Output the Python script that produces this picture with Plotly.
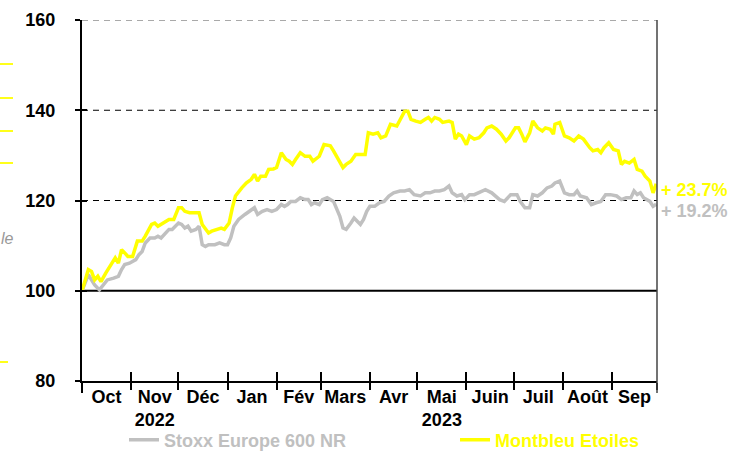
import plotly.graph_objects as go
import pandas as pd

# ---------------- data ----------------
stoxx_name = "Stoxx Europe 600 NR"
montbleu_name = "Montbleu Etoiles"

stoxx_dates = [
    "2022-10-01", "2022-10-05", "2022-10-07", "2022-10-09", "2022-10-12", "2022-10-14", "2022-10-17",
    "2022-10-21", "2022-10-24", "2022-10-26", "2022-10-28", "2022-10-31", "2022-11-02", "2022-11-04",
    "2022-11-06", "2022-11-08", "2022-11-10", "2022-11-13", "2022-11-16", "2022-11-18", "2022-11-20",
    "2022-11-22", "2022-11-25", "2022-11-27", "2022-12-01", "2022-12-03", "2022-12-05", "2022-12-07",
    "2022-12-09", "2022-12-12", "2022-12-14", "2022-12-16", "2022-12-18", "2022-12-20", "2022-12-24",
    "2022-12-27", "2022-12-30", "2023-01-01", "2023-01-03", "2023-01-05", "2023-01-08", "2023-01-12",
    "2023-01-15", "2023-01-18", "2023-01-20", "2023-01-23", "2023-01-26", "2023-01-29", "2023-02-01",
    "2023-02-04", "2023-02-06", "2023-02-08", "2023-02-10", "2023-02-13", "2023-02-16", "2023-02-19",
    "2023-02-21", "2023-02-23", "2023-02-25", "2023-02-28", "2023-03-02", "2023-03-05", "2023-03-09",
    "2023-03-11", "2023-03-13", "2023-03-15", "2023-03-17", "2023-03-20", "2023-03-22", "2023-03-24",
    "2023-03-26", "2023-03-28", "2023-03-30", "2023-04-01", "2023-04-04", "2023-04-07", "2023-04-10",
    "2023-04-13", "2023-04-16", "2023-04-20", "2023-04-23", "2023-04-26", "2023-04-29", "2023-05-03",
    "2023-05-06", "2023-05-09", "2023-05-12", "2023-05-15", "2023-05-18", "2023-05-21", "2023-05-23",
    "2023-05-26", "2023-05-29", "2023-05-31", "2023-06-03", "2023-06-06", "2023-06-09", "2023-06-13",
    "2023-06-17", "2023-06-19", "2023-06-22", "2023-06-25", "2023-06-29", "2023-07-03", "2023-07-05",
    "2023-07-08", "2023-07-11", "2023-07-13", "2023-07-16", "2023-07-19", "2023-07-22", "2023-07-25",
    "2023-07-27", "2023-07-30", "2023-08-02", "2023-08-05", "2023-08-08", "2023-08-10", "2023-08-12",
    "2023-08-16", "2023-08-19", "2023-08-22", "2023-08-25", "2023-08-28", "2023-08-31", "2023-09-04",
    "2023-09-07", "2023-09-10", "2023-09-13", "2023-09-15", "2023-09-17", "2023-09-19", "2023-09-21",
    "2023-09-25", "2023-09-27", "2023-09-29",
]
stoxx_values = [
    100.0, 103.6, 102.4, 101.3, 100.2, 101.0, 102.4,
    102.8, 103.2, 104.7, 105.8, 106.1, 106.5, 106.9,
    108.0, 108.7, 110.6, 111.7, 111.7, 112.1, 111.7,
    112.4, 113.6, 113.6, 115.0, 114.7, 113.9, 114.3,
    113.2, 113.6, 114.3, 110.2, 109.8, 110.2, 110.2,
    110.6, 110.2, 110.2, 111.7, 114.3, 115.8, 116.9,
    117.6, 118.4, 116.9, 117.6, 118.0, 117.6, 118.0,
    119.1, 118.7, 119.1, 119.8, 119.8, 120.6, 120.2,
    120.2, 119.1, 119.5, 119.1, 120.2, 120.6, 119.8,
    118.0, 116.5, 113.9, 113.6, 115.0, 116.1, 115.4,
    114.7, 115.8, 117.6, 118.7, 118.7, 119.5, 119.8,
    121.0, 121.7, 122.1, 122.1, 122.4, 121.3, 121.0,
    121.7, 121.7, 122.1, 122.1, 122.4, 123.2, 121.7,
    121.0, 121.3, 120.2, 121.3, 121.3, 121.7, 122.4,
    121.7, 121.0, 120.2, 119.8, 121.3, 121.3, 119.8,
    118.4, 118.4, 121.3, 121.0, 121.7, 122.8, 123.2,
    123.9, 124.3, 121.7, 121.3, 121.3, 122.1, 121.0,
    120.6, 119.1, 119.5, 119.8, 121.3, 121.3, 121.0,
    120.2, 120.6, 120.6, 122.1, 121.3, 121.7, 120.6,
    119.8, 118.7, 119.2,
]

montbleu_dates = [
    "2022-10-01", "2022-10-05", "2022-10-07", "2022-10-09", "2022-10-11", "2022-10-13", "2022-10-16",
    "2022-10-20", "2022-10-22", "2022-10-24", "2022-10-26", "2022-10-28", "2022-10-30", "2022-11-02",
    "2022-11-04", "2022-11-05", "2022-11-08", "2022-11-10", "2022-11-14", "2022-11-16", "2022-11-18",
    "2022-11-21", "2022-11-23", "2022-11-25", "2022-11-28", "2022-12-01", "2022-12-03", "2022-12-05",
    "2022-12-08", "2022-12-11", "2022-12-14", "2022-12-16", "2022-12-18", "2022-12-20", "2022-12-22",
    "2022-12-25", "2022-12-28", "2022-12-30", "2023-01-02", "2023-01-04", "2023-01-06", "2023-01-10",
    "2023-01-13", "2023-01-16", "2023-01-18", "2023-01-20", "2023-01-22", "2023-01-25", "2023-01-27",
    "2023-01-30", "2023-02-01", "2023-02-04", "2023-02-07", "2023-02-09", "2023-02-11", "2023-02-13",
    "2023-02-16", "2023-02-19", "2023-02-22", "2023-02-24", "2023-02-28", "2023-03-03", "2023-03-07",
    "2023-03-09", "2023-03-12", "2023-03-15", "2023-03-17", "2023-03-20", "2023-03-23", "2023-03-26",
    "2023-03-29", "2023-03-31", "2023-04-03", "2023-04-06", "2023-04-08", "2023-04-11", "2023-04-14",
    "2023-04-18", "2023-04-20", "2023-04-23", "2023-04-25", "2023-04-27", "2023-04-30", "2023-05-03",
    "2023-05-06", "2023-05-08", "2023-05-10", "2023-05-12", "2023-05-15", "2023-05-17", "2023-05-21",
    "2023-05-23", "2023-05-25", "2023-05-27", "2023-05-29", "2023-06-01", "2023-06-03", "2023-06-06",
    "2023-06-09", "2023-06-12", "2023-06-14", "2023-06-17", "2023-06-20", "2023-06-23", "2023-06-26",
    "2023-06-28", "2023-07-02", "2023-07-04", "2023-07-06", "2023-07-08", "2023-07-11", "2023-07-13",
    "2023-07-16", "2023-07-19", "2023-07-21", "2023-07-24", "2023-07-26", "2023-07-27", "2023-07-30",
    "2023-08-02", "2023-08-05", "2023-08-08", "2023-08-11", "2023-08-14", "2023-08-18", "2023-08-20",
    "2023-08-23", "2023-08-25", "2023-08-27", "2023-08-30", "2023-09-02", "2023-09-05", "2023-09-07",
    "2023-09-09", "2023-09-12", "2023-09-15", "2023-09-17", "2023-09-20", "2023-09-22", "2023-09-25",
    "2023-09-27", "2023-09-29",
]
montbleu_values = [
    100.0, 104.7, 104.3, 102.4, 103.2, 102.0, 103.9,
    106.1, 107.3, 106.1, 109.1, 108.4, 107.6, 107.6,
    109.8, 111.0, 111.0, 112.1, 114.7, 115.0, 114.3,
    115.0, 115.4, 115.8, 115.8, 118.4, 118.4, 117.6,
    117.3, 117.3, 117.3, 114.7, 113.6, 112.8, 113.2,
    113.6, 113.9, 113.6, 115.0, 118.3, 121.0, 122.8,
    123.9, 124.7, 125.8, 124.3, 125.4, 125.4, 126.9,
    127.0, 127.3, 130.6, 129.1, 128.7, 128.0, 129.1,
    130.6, 129.8, 129.8, 128.7, 129.8, 132.4, 132.1,
    131.0, 129.1, 127.3, 128.0, 128.7, 130.2, 130.2,
    130.2, 135.0, 134.7, 135.0, 133.9, 134.3, 136.9,
    136.5, 138.0, 139.8, 139.8, 138.0, 137.6, 137.3,
    138.0, 138.4, 137.6, 138.4, 138.0, 137.3, 137.6,
    137.3, 133.6, 134.7, 134.3, 132.4, 134.3, 133.6,
    133.9, 135.0, 136.1, 136.5, 135.8, 134.7, 133.2,
    133.9, 136.1, 136.1, 134.7, 133.0, 135.0, 137.6,
    136.1, 135.4, 136.1, 135.8, 134.7, 136.9, 137.3,
    134.3, 133.9, 133.2, 134.3, 133.6, 131.7, 131.0,
    131.3, 130.6, 131.7, 132.8, 131.3, 131.0, 128.0,
    128.7, 128.3, 129.1, 126.9, 126.5, 125.4, 124.3,
    121.7, 123.7,
]

month_starts = ["2022-10-01", "2022-11-01", "2022-12-01", "2023-01-01", "2023-02-01", "2023-03-01",
                "2023-04-01", "2023-05-01", "2023-06-01", "2023-07-01", "2023-08-01", "2023-09-01"]
month_labels = ["Oct", "Nov<br>2022", "Déc", "Jan", "Fév", "Mars",
                "Avr", "Mai<br>2023", "Juin", "Juil", "Août", "Sep"]
axis_start = "2022-10-01T00:00"
axis_end = "2023-09-29T12:00"
y_ticks = [80, 100, 120, 140, 160]
base_level = 100
dashed_levels = [120, 140]
top_level = 160

# ---------------- styling ----------------
GRAY = "#C0C0C0"
YELLOW = "#FFFF00"
FONT = "Arial, Liberation Sans, sans-serif"
FS = 18
W, H = 738, 451
ML, MR, MT, MB = 82, 81, 20, 70
PW, PH = W - ML - MR, H - MT - MB


def px_x(p):
    return (p - ML) / PW


def px_y(p):
    return (MT + PH - p) / PH


x_start = pd.Timestamp(axis_start)
x_end = pd.Timestamp(axis_end)
bounds = [pd.Timestamp(m) for m in month_starts] + [x_end]
mids = [bounds[i] + (bounds[i + 1] - bounds[i]) / 2 for i in range(len(month_starts))]
tick_positions = bounds

fig = go.Figure()
fig.add_trace(go.Scatter(
    x=pd.to_datetime(stoxx_dates), y=stoxx_values, mode="lines",
    name=f"<span style='color:{GRAY}'>{stoxx_name}</span>", legend="legend",
    line=dict(color=GRAY, width=3.5), hoverinfo="skip"))
fig.add_trace(go.Scatter(
    x=pd.to_datetime(montbleu_dates), y=montbleu_values, mode="lines",
    name=f"<span style='color:{YELLOW}'>{montbleu_name}</span>", legend="legend2",
    line=dict(color=YELLOW, width=3.5), hoverinfo="skip"))
# helper trace so the overlay axes (inner tick halves) are drawn
fig.add_trace(go.Scatter(x=[x_start], y=[base_level], xaxis="x2", yaxis="y2",
                         mode="markers", marker=dict(opacity=0), showlegend=False, hoverinfo="skip"))

legend_common = dict(orientation="h", xanchor="left", yanchor="middle", y=px_y(440),
                     font=dict(family=FONT, size=FS, weight="bold"),
                     bgcolor="rgba(0,0,0,0)", borderwidth=0)

fig.update_layout(
    width=W, height=H,
    margin=dict(l=ML, r=MR, t=MT, b=MB, pad=0, autoexpand=False),
    paper_bgcolor="white", plot_bgcolor="white",
    font=dict(family=FONT, size=FS, color="black"),
    showlegend=True,
    legend=dict(x=px_x(124), **legend_common),
    legend2=dict(x=px_x(455), **legend_common),
    xaxis=dict(type="date", range=[x_start, x_end], automargin=False,
               tickmode="array", tickvals=mids, ticktext=month_labels, ticks="",
               tickfont=dict(family=FONT, size=FS, weight="bold", color="black"),
               ticklabelstandoff=-2,
               showline=True, linecolor="black", linewidth=2, showgrid=False, zeroline=False,
               minor=dict(tickmode="array", tickvals=tick_positions, ticks="outside",
                          ticklen=7, tickwidth=2, tickcolor="black", showgrid=False)),
    xaxis2=dict(type="date", overlaying="x", anchor="y", side="bottom",
                range=[x_start, x_end], automargin=False,
                tickmode="array", tickvals=tick_positions, ticks="inside", ticklen=9,
                tickwidth=2, tickcolor="black", showticklabels=False, showline=False,
                showgrid=False, zeroline=False),
    yaxis=dict(range=[80, 160], tickmode="array", tickvals=y_ticks, ticks="outside",
               ticklen=5, tickwidth=2, tickcolor="black", automargin=False,
               tickfont=dict(family=FONT, size=FS, weight="bold", color="black"),
               ticklabelstandoff=16,
               showline=True, linecolor="black", linewidth=2, showgrid=False, zeroline=False),
    yaxis2=dict(range=[80, 160], overlaying="y", anchor="x", side="left", automargin=False,
                tickmode="array", tickvals=y_ticks, ticks="inside", ticklen=5, tickwidth=2,
                tickcolor="black", showticklabels=False, showline=False, showgrid=False,
                zeroline=False),
)

shapes = []
for lvl in dashed_levels:
    shapes.append(dict(type="line", xref="paper", x0=0, x1=1, yref="y", y0=lvl, y1=lvl,
                       line=dict(color="black", width=1, dash="6px,5px"), layer="below"))
shapes.append(dict(type="line", xref="paper", x0=0, x1=1, yref="y", y0=top_level, y1=top_level,
                   line=dict(color="#555555", width=1.2, dash="6px,5px"), layer="below"))
shapes.append(dict(type="line", xref="paper", x0=0, x1=1, yref="y", y0=base_level, y1=base_level,
                   line=dict(color="black", width=2), layer="below"))
# right frame line and downward extensions of the frame
shapes.append(dict(type="line", xref="paper", x0=1, x1=1, yref="paper", y0=-12 / PH, y1=1,
                   line=dict(color="#444444", width=1.5)))
shapes.append(dict(type="line", xref="paper", x0=0, x1=0, yref="paper", y0=-12 / PH, y1=0,
                   line=dict(color="black", width=2)))
# cut-off legend fragments at the far left of the picture
for py, right in [(64, 13), (98, 13), (131, 13), (163, 13), (362, 8)]:
    shapes.append(dict(type="line", xref="paper", x0=px_x(0), x1=px_x(right),
                       yref="paper", y0=px_y(py), y1=px_y(py),
                       line=dict(color=YELLOW, width=1.8)))
fig.update_layout(shapes=shapes)

annotations = [
    dict(xref="paper", yref="paper", x=px_x(16), y=px_y(238),
         text="le", showarrow=False, xanchor="right", yanchor="middle",
         font=dict(family=FONT, size=16, color="#999999", style="italic")),
    dict(x=pd.Timestamp(montbleu_dates[-1]), y=montbleu_values[-1], xref="x", yref="y",
         text=f"+ {montbleu_values[-1] - base_level:.1f}%", showarrow=False,
         xanchor="left", yanchor="middle", xshift=3, yshift=-6,
         font=dict(family=FONT, size=FS, weight="bold", color=YELLOW)),
    dict(x=pd.Timestamp(stoxx_dates[-1]), y=stoxx_values[-1], xref="x", yref="y",
         text=f"+ {stoxx_values[-1] - base_level:.1f}%", showarrow=False,
         xanchor="left", yanchor="middle", xshift=3, yshift=-7,
         font=dict(family=FONT, size=FS, weight="bold", color=GRAY)),
]
fig.update_layout(annotations=annotations)

fig.write_html(
    "out.html",
    config={"displayModeBar": False},
    post_script="document.body.style.margin='0';document.body.style.overflow='hidden';",
)
